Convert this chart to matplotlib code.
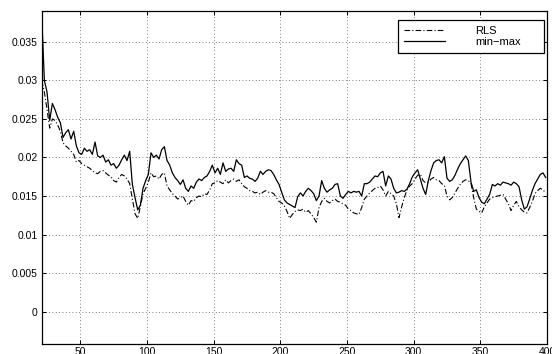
import numpy as np
import matplotlib
matplotlib.use("Agg")
import matplotlib.pyplot as plt
from matplotlib.ticker import FixedLocator

x_start, x_stop, x_step = 21, 400, 2

minmax_vals = [
    0.0385, 0.0300, 0.0285, 0.0248, 0.0270, 0.0262, 0.0252, 0.0245, 0.0226, 0.0232,
    0.0236, 0.0224, 0.0234, 0.0215, 0.0206, 0.0204, 0.0212, 0.0208, 0.0210, 0.0204,
    0.0220, 0.0202, 0.0200, 0.0203, 0.0194, 0.0197, 0.0190, 0.0192, 0.0186, 0.0190,
    0.0197, 0.0203, 0.0196, 0.0208, 0.0165, 0.0148, 0.0132, 0.0138, 0.0160, 0.0170,
    0.0178, 0.0206, 0.0200, 0.0203, 0.0198, 0.0210, 0.0214, 0.0196, 0.0190, 0.0180,
    0.0174, 0.0170, 0.0165, 0.0171, 0.0160, 0.0156, 0.0163, 0.0160, 0.0168, 0.0172,
    0.0170, 0.0174, 0.0176, 0.0182, 0.0190, 0.0180, 0.0186, 0.0178, 0.0193, 0.0182,
    0.0185, 0.0186, 0.0182, 0.0197, 0.0192, 0.0190, 0.0174, 0.0176, 0.0173, 0.0172,
    0.0169, 0.0173, 0.0182, 0.0178, 0.0182, 0.0184, 0.0183, 0.0178, 0.0171, 0.0165,
    0.0155, 0.0145, 0.0141, 0.0139, 0.0137, 0.0135, 0.0149, 0.0154, 0.0150, 0.0156,
    0.0160, 0.0157, 0.0153, 0.0144, 0.0150, 0.0170, 0.0160, 0.0155, 0.0158, 0.0160,
    0.0165, 0.0166, 0.0150, 0.0147, 0.0152, 0.0156, 0.0154, 0.0156, 0.0155, 0.0156,
    0.0150, 0.0166, 0.0166, 0.0168, 0.0172, 0.0176, 0.0175, 0.0180, 0.0182, 0.0163,
    0.0176, 0.0172, 0.0160, 0.0154, 0.0155, 0.0157, 0.0156, 0.0159, 0.0166, 0.0175,
    0.0180, 0.0184, 0.0172, 0.0160, 0.0152, 0.0170, 0.0183, 0.0193, 0.0196, 0.0197,
    0.0193, 0.0201, 0.0173, 0.0169, 0.0171, 0.0177, 0.0185, 0.0192, 0.0197, 0.0202,
    0.0196, 0.0168, 0.0156, 0.0158, 0.0148, 0.0142, 0.0140, 0.0146, 0.0152, 0.0165,
    0.0163, 0.0166, 0.0164, 0.0168, 0.0167, 0.0166, 0.0164, 0.0168, 0.0166, 0.0162,
    0.0145, 0.0133, 0.0136, 0.0146, 0.0157, 0.0166, 0.0172, 0.0178, 0.0180, 0.0174,
]

rls_vals = [
    0.0300, 0.0285, 0.0262, 0.0238, 0.0250, 0.0248, 0.0242, 0.0234, 0.0219, 0.0215,
    0.0212, 0.0208, 0.0204, 0.0194, 0.0196, 0.0192, 0.0190, 0.0188, 0.0186, 0.0183,
    0.0180, 0.0179, 0.0182, 0.0183, 0.0180, 0.0177, 0.0175, 0.0170, 0.0168, 0.0174,
    0.0178, 0.0176, 0.0172, 0.0166, 0.0146, 0.0127, 0.0121, 0.0136, 0.0153, 0.0160,
    0.0168, 0.0180, 0.0175, 0.0176, 0.0172, 0.0178, 0.0180, 0.0163, 0.0158, 0.0153,
    0.0150, 0.0146, 0.0148, 0.0150, 0.0143, 0.0138, 0.0144, 0.0143, 0.0148, 0.0150,
    0.0149, 0.0153, 0.0152, 0.0158, 0.0166, 0.0167, 0.0170, 0.0168, 0.0166, 0.0171,
    0.0167, 0.0170, 0.0172, 0.0169, 0.0171, 0.0166, 0.0162, 0.0160, 0.0157, 0.0156,
    0.0154, 0.0155, 0.0152, 0.0155, 0.0157, 0.0155, 0.0155, 0.0153, 0.0148, 0.0143,
    0.0141, 0.0137, 0.0130, 0.0121, 0.0126, 0.0130, 0.0132, 0.0131, 0.0133, 0.0129,
    0.0131, 0.0127, 0.0122, 0.0116, 0.0135, 0.0143, 0.0147, 0.0143, 0.0141, 0.0144,
    0.0146, 0.0143, 0.0142, 0.0140, 0.0138, 0.0133, 0.0131, 0.0128, 0.0127, 0.0126,
    0.0135, 0.0146, 0.0150, 0.0154, 0.0157, 0.0160, 0.0161, 0.0163, 0.0158, 0.0150,
    0.0156, 0.0153, 0.0150, 0.0140, 0.0122, 0.0136, 0.0148, 0.0158, 0.0163, 0.0166,
    0.0172, 0.0177, 0.0178, 0.0170, 0.0167, 0.0168, 0.0172, 0.0174, 0.0171, 0.0170,
    0.0166, 0.0164, 0.0150, 0.0145, 0.0148, 0.0154, 0.0160, 0.0165, 0.0169, 0.0171,
    0.0170, 0.0166, 0.0148, 0.0133, 0.0130, 0.0128, 0.0136, 0.0141, 0.0146, 0.0148,
    0.0149, 0.0150, 0.0151, 0.0152, 0.0146, 0.0140, 0.0131, 0.0138, 0.0143, 0.0136,
    0.0132, 0.0129, 0.0128, 0.0135, 0.0143, 0.0153, 0.0157, 0.0160, 0.0158, 0.0154,
]

x_ticks = [50, 100, 150, 200, 250, 300, 350, 400]
x_tick_labels = ["50", "100", "150", "200", "250", "300", "350", "400"]
y_ticks = [0, 0.005, 0.01, 0.015, 0.02, 0.025, 0.03, 0.035]
y_tick_labels = ["0", "0.005", "0.01", "0.015", "0.02", "0.025", "0.03", "0.035"]
series_labels = ["RLS", "min\u2212max"]

x = np.arange(x_start, x_stop, x_step)

plt.rcParams['font.family'] = ['Liberation Sans', 'DejaVu Sans']

fig = plt.figure(figsize=(5.52, 3.54), dpi=100)
ax = fig.add_axes([41.7 / 552, 10 / 354, (547 - 41.7) / 552, (343 - 10) / 354])

ax.plot(x, rls_vals, color='black', lw=0.8, linestyle=(0, (5, 2, 1, 2)), label=series_labels[0])
ax.plot(x, minmax_vals, color='black', lw=0.9, linestyle='-', label=series_labels[1])

ax.set_xlim(21, 400)
ax.set_ylim(-0.0042, 0.039)
ax.xaxis.set_major_locator(FixedLocator(x_ticks))
ax.set_xticklabels(x_tick_labels)
ax.yaxis.set_major_locator(FixedLocator(y_ticks))
ax.set_yticklabels(y_tick_labels)

ax.grid(True, color='#555555', linestyle=(0, (1, 3)), linewidth=0.6)
ax.tick_params(direction='in', length=3, width=0.7, top=True, right=True,
               labelsize=7.5, colors='black')
ax.tick_params(axis='x', pad=2)
ax.tick_params(axis='y', pad=3)
for sp in ax.spines.values():
    sp.set_linewidth(0.9)

leg = ax.legend(loc='upper right', bbox_to_anchor=(0.705, 0.5, 0.2896, 0.473),
                mode='expand', fontsize=8,
                frameon=True, fancybox=False, framealpha=1, edgecolor='black',
                handlelength=3.7, handletextpad=2.7, borderpad=0.53, labelspacing=0.08,
                borderaxespad=0)
leg.get_frame().set_linewidth(0.9)

fig.savefig('out.png', dpi=100)
